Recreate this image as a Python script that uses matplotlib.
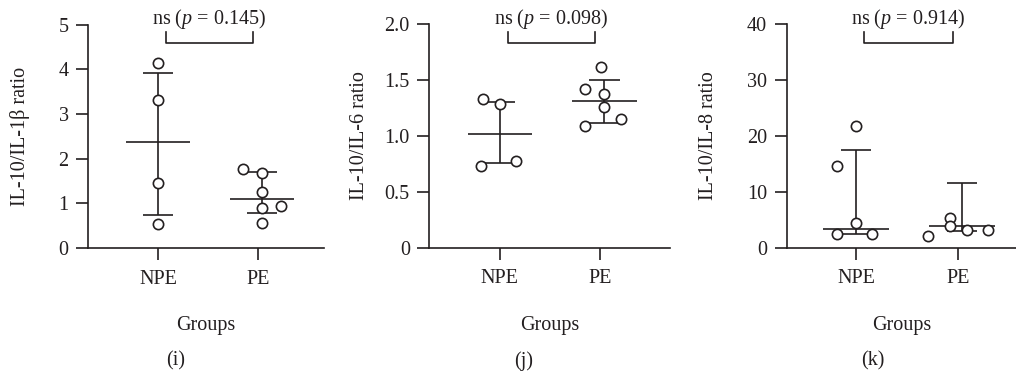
import matplotlib

matplotlib.use("Agg")
import matplotlib.pyplot as plt

plt.rcParams["font.family"] = ["Liberation Serif", "DejaVu Serif"]
plt.rcParams["mathtext.fontset"] = "custom"
plt.rcParams["mathtext.rm"] = "Liberation Serif"
plt.rcParams["mathtext.it"] = "Liberation Serif:italic"

INK = "#231f20"
FS = 14.5

groups = ["NPE", "PE"]

# panel (i) IL-10/IL-1beta
i_npe = [4.14, 3.32, 1.46, 0.54]
i_pe = [1.77, 1.68, 1.25, 0.93, 0.90, 0.57]
i_mid = [2.37, 1.10]
i_upper = [3.92, 1.71]
i_lower = [0.745, 0.79]

# panel (j) IL-10/IL-6
j_npe = [1.33, 1.29, 0.78, 0.73]
j_pe = [1.615, 1.42, 1.375, 1.26, 1.15, 1.09]
j_mid = [1.02, 1.31]
j_upper = [1.30, 1.50]
j_lower = [0.755, 1.12]

# panel (k) IL-10/IL-8
k_npe = [21.85, 14.7, 4.48, 2.39, 2.39]
k_pe = [5.25, 3.82, 3.22, 3.22, 2.09]
k_mid = [3.28, 3.82]
k_upper = [17.55, 11.5]
k_lower = [2.45, 2.99]

# horizontal scatter of the points inside each column
i_jit = ([0, 0, 0, 0], [-0.19, 0, 0, 0.19, 0, 0])
j_jit = ([-0.165, 0, 0.166, -0.19], [-0.03, -0.19, 0, 0, 0.16, -0.19])
k_jit = ([0, -0.19, 0, -0.19, 0.16], [-0.12, -0.12, 0.05, 0.26, -0.33])

panels = [
    dict(npe=i_npe, pe=i_pe, mid=i_mid, up=i_upper, lo=i_lower, jit=i_jit,
         ylabel="IL-10/IL-1β ratio", p="0.145", ylim=5, yticks=[0, 1, 2, 3, 4, 5],
         yticklabels=["0", "1", "2", "3", "4", "5"], tag="(i)", tagx=0.37,
         labx=-0.288, pos=[0.0866, 0.342, 0.2323, 0.593], xlim=(0.3, 2.66)),
    dict(npe=j_npe, pe=j_pe, mid=j_mid, up=j_upper, lo=j_lower, jit=j_jit,
         ylabel="IL-10/IL-6 ratio", p="0.098", ylim=2.0, yticks=[0, 0.5, 1.0, 1.5, 2.0],
         yticklabels=["0", "0.5", "1.0", "1.5", "2.0"], tag="(j)", tagx=0.39,
         labx=-0.288, pos=[0.4225, 0.343, 0.2369, 0.5925], xlim=(0.3, 2.69)),
    dict(npe=k_npe, pe=k_pe, mid=k_mid, up=k_upper, lo=k_lower, jit=k_jit,
         ylabel="IL-10/IL-8 ratio", p="0.914", ylim=40, yticks=[0, 10, 20, 30, 40],
         yticklabels=["0", "10", "20", "30", "40"], tag="(k)", tagx=0.376,
         labx=-0.343, pos=[0.7743, 0.343, 0.2257, 0.5925], xlim=(0.32, 2.57)),
]

centers = [1.0, 2.04]

fig = plt.figure(figsize=(10.16, 3.77), dpi=100)

for pn in panels:
    ax = fig.add_axes(pn["pos"])
    top = pn["ylim"]
    for g, vals in enumerate([pn["npe"], pn["pe"]]):
        c = centers[g]
        xs = [c + d for d in pn["jit"][g]]
        ax.plot(xs, vals, "o", ms=7.4, mfc="white", mec=INK, mew=1.2,
                zorder=3, clip_on=False)
        ax.hlines(pn["mid"][g], c - 0.32, c + 0.32, color=INK, lw=1.2, zorder=2)
        ax.hlines([pn["up"][g], pn["lo"][g]], c - 0.15, c + 0.15, color=INK,
                  lw=1.2, zorder=2)
        ax.vlines(c, pn["lo"][g], pn["up"][g], color=INK, lw=1.2, zorder=2)

    # significance bracket
    yb, yt = top * 0.916, top * 0.965
    ax.plot([1.08, 1.08, 1.95, 1.95], [yt, yb, yb, yt], color=INK, lw=1.2,
            clip_on=False)
    ax.text(1.51, top * 1.025, f"ns ($p$ = {pn['p']})", ha="center",
            va="center", fontsize=FS, color=INK, clip_on=False)

    ax.set_xlim(*pn["xlim"])
    ax.set_ylim(0, top)
    ax.set_xticks([1, 2])
    ax.set_xticklabels(groups)
    ax.set_yticks(pn["yticks"])
    ax.set_yticklabels(pn["yticklabels"])
    for s in ("top", "right"):
        ax.spines[s].set_visible(False)
    for s in ("left", "bottom"):
        ax.spines[s].set_color(INK)
        ax.spines[s].set_linewidth(1.2)
    ax.tick_params(length=8.5, width=1.2, color=INK, labelcolor=INK,
                   labelsize=FS, direction="out")
    ax.tick_params(axis="x", pad=7)
    ax.tick_params(axis="y", pad=5.5)
    ax.set_ylabel(pn["ylabel"], fontsize=FS, color=INK, va="center")
    ax.yaxis.set_label_coords(pn["labx"], 0.5)
    ax.set_xlabel("Groups", fontsize=FS, color=INK, labelpad=20)
    ax.text(pn["tagx"], -0.506, pn["tag"], transform=ax.transAxes, ha="center",
            va="center", fontsize=FS, color=INK)

fig.savefig("out.png", dpi=100)
